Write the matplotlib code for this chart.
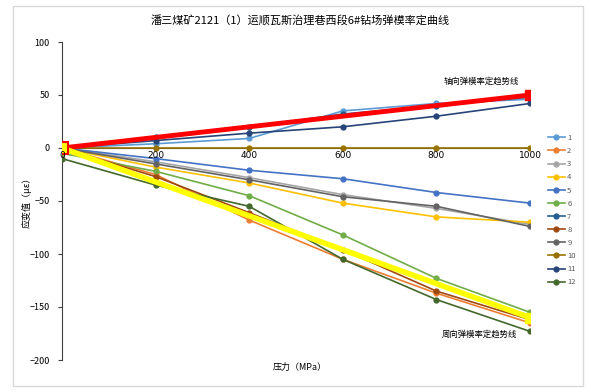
import matplotlib
matplotlib.use("Agg")
import matplotlib.pyplot as plt
import numpy as np

plt.rcParams['font.family'] = ['Noto Sans CJK SC', 'DejaVu Sans']

pressure = [0, 200, 400, 600, 800, 1000]
series_names = ['1', '2', '3', '4', '5', '6', '7', '8', '9', '10', '11', '12']
series_colors = ['#5B9BD5', '#ED7D31', '#A5A5A5', '#FFC000', '#4472C4', '#70AD47',
                 '#255E91', '#9E480E', '#636363', '#997300', '#264478', '#43682B']
s1 = [0, 4, 9, 35, 42, 46]
s2 = [0, -25, -68, -105, -137, -165]
s3 = [0, -13, -28, -44, -57, -72]
s4 = [0, -18, -33, -52, -65, -70]
s5 = [0, -10, -21, -29, -42, -52]
s6 = [-5, -22, -45, -82, -123, -155]
s7 = [0, 10, 20, 32, 40, 48]
s8 = [0, -27, -61, -96, -135, -162]
s9 = [0, -15, -30, -46, -55, -74]
s10 = [0, 0, 0, 0, 0, 0]
s11 = [0, 7, 14, 20, 30, 42]
s12 = [-10, -35, -55, -105, -143, -173]
series = [s1, s2, s3, s4, s5, s6, s7, s8, s9, s10, s11, s12]

axial_x = [0, 1000]
axial_y = [0, 50]
radial_x = [0, 1000]
radial_y = [0, -160]

title = '潘三煤矿2121（1）运顺瓦斯治理巷西段6#钻场弹模率定曲线'
xlabel = '压力（MPa）'
ylabel = '应变值（με）'
axial_label = '轴向弹模率定趋势线'
radial_label = '周向弹模率定趋势线'

fig = plt.figure(figsize=(5.91, 3.92), dpi=100)
W, H = 591, 392
ax = fig.add_axes([62 / W, 1 - 360 / H, (530 - 62) / W, (360 - 42) / H])

for vals, c, n in zip(series, series_colors, series_names):
    ax.plot(pressure, vals, color=c, lw=1.2, marker='o', ms=3.5, label=n, zorder=3)

ax.plot(axial_x, axial_y, color='#FF0000', lw=3.5, marker='s', ms=7, zorder=5)
ax.plot(radial_x, radial_y, color='#FFFF00', lw=4, marker='s', ms=7, zorder=5)
ax.plot([0], [0], marker='s', ms=8, color='#FFFF00', mec='#FF0000', mew=1.5, zorder=6)

ax.set_xlim(0, 1000)
ax.set_ylim(-200, 100)
ax.set_yticks(np.arange(-200, 101, 50))
ax.set_xticks([])
for s in ['top', 'right', 'bottom']:
    ax.spines[s].set_visible(False)
ax.spines['left'].set_color('#404040')
ax.axhline(0, color='#404040', lw=0.8, zorder=2)
ax.tick_params(axis='y', labelsize=6.5, length=3, color='#404040', pad=6)
for xv in pressure:
    ax.text(xv, -2.5, str(xv), ha='center', va='top', fontsize=6.5, zorder=7,
            family=['DejaVu Sans'])

ax.text(897, 59, axial_label, fontsize=6, ha='center', va='bottom')
ax.text(893, -172, radial_label, fontsize=6, ha='center', va='top')

fig.text(300 / W, 1 - 21 / H, title, ha='center', va='center', fontsize=8)
fig.text(300 / W, 1 - 367 / H, xlabel, ha='center', va='center', fontsize=6.5)
fig.text(27 / W, 1 - 200 / H, ylabel, ha='center', va='center', fontsize=6.5, rotation=90)

leg = fig.legend(loc='upper left', bbox_to_anchor=(545 / W, 1 - 131 / H), frameon=False,
                 fontsize=5.5, handlelength=2.2, labelspacing=0.67, handletextpad=0.3,
                 borderaxespad=0)
for t in leg.get_texts():
    t.set_color('#595959')

rect = plt.Rectangle((13 / W, 6 / H), (583 - 13) / W, (386 - 6) / H, transform=fig.transFigure,
                     fill=False, ec='#D9D9D9', lw=1)
fig.add_artist(rect)

fig.savefig('out.png', dpi=100)
